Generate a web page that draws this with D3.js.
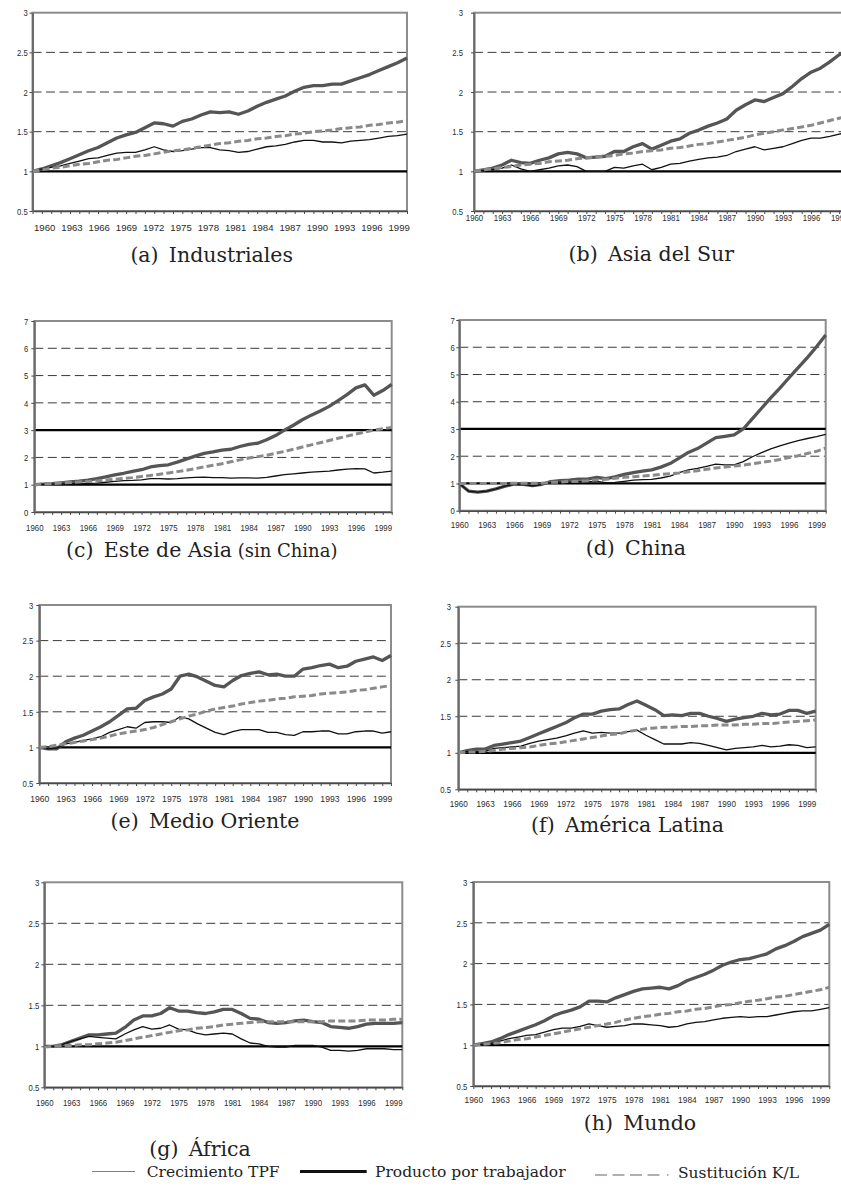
<!DOCTYPE html>
<html>
<head>
<meta charset="utf-8">
<script src="https://cdn.jsdelivr.net/npm/d3@7"></script>
<style>
  html, body { margin: 0; padding: 0; background: #fff; }
  svg { display: block; }
</style>
</head>
<body>
<script>
// ---------- categories / tick labels ----------
const years = d3.range(1960, 2001);            // 1960 ... 2000
const xTickLabels = [1960,1963,1966,1969,1972,1975,1978,1981,1984,1987,1990,1993,1996,1999];
const yTicksLow  = [0.5, 1, 1.5, 2, 2.5, 3];
const yTicksHigh = [0, 1, 2, 3, 4, 5, 6, 7];

// ---------- series ----------
// (a) Industriales
const tpfIndustriales  = [1.00,1.03,1.05,1.07,1.10,1.13,1.16,1.17,1.20,1.23,1.24,1.24,1.27,1.31,1.27,1.25,1.26,1.28,1.30,1.30,1.27,1.26,1.24,1.25,1.28,1.31,1.32,1.34,1.37,1.39,1.39,1.37,1.37,1.36,1.38,1.39,1.40,1.42,1.44,1.45,1.47];
const prodIndustriales = [1.00,1.03,1.07,1.11,1.16,1.21,1.26,1.30,1.36,1.42,1.46,1.49,1.55,1.61,1.60,1.57,1.63,1.66,1.71,1.75,1.74,1.75,1.72,1.76,1.82,1.87,1.91,1.95,2.01,2.06,2.08,2.08,2.10,2.10,2.14,2.18,2.22,2.27,2.32,2.37,2.43];
const klIndustriales   = [1.00,1.02,1.04,1.05,1.07,1.09,1.10,1.12,1.14,1.15,1.17,1.19,1.20,1.22,1.24,1.26,1.27,1.29,1.31,1.33,1.35,1.36,1.38,1.39,1.41,1.42,1.44,1.45,1.47,1.48,1.50,1.51,1.52,1.54,1.55,1.56,1.58,1.59,1.61,1.62,1.64];
// (b) Asia del Sur
const tpfAsiaSur  = [1.00,1.01,1.02,1.04,1.08,1.03,1.00,1.02,1.04,1.07,1.08,1.06,1.00,1.00,1.00,1.05,1.04,1.07,1.09,1.02,1.05,1.09,1.10,1.13,1.15,1.17,1.18,1.20,1.25,1.28,1.31,1.27,1.29,1.31,1.35,1.39,1.42,1.42,1.44,1.47,1.49];
const prodAsiaSur = [1.00,1.02,1.04,1.08,1.14,1.11,1.10,1.14,1.17,1.22,1.24,1.22,1.17,1.18,1.19,1.25,1.25,1.31,1.35,1.28,1.33,1.38,1.41,1.48,1.52,1.57,1.61,1.66,1.77,1.84,1.90,1.88,1.93,1.98,2.07,2.17,2.25,2.30,2.38,2.47,2.52];
const klAsiaSur   = [1.00,1.02,1.03,1.05,1.06,1.08,1.09,1.10,1.12,1.13,1.14,1.16,1.17,1.18,1.19,1.20,1.22,1.23,1.25,1.26,1.27,1.29,1.30,1.32,1.34,1.35,1.37,1.39,1.41,1.43,1.46,1.48,1.50,1.52,1.54,1.56,1.58,1.61,1.64,1.67,1.70];
// (c) Este de Asia (sin China)
const tpfEsteAsia  = [1.00,1.01,1.02,1.03,1.03,1.04,1.05,1.06,1.09,1.12,1.15,1.16,1.18,1.22,1.22,1.21,1.22,1.25,1.27,1.28,1.26,1.26,1.24,1.25,1.25,1.24,1.27,1.32,1.37,1.40,1.43,1.46,1.48,1.50,1.54,1.57,1.59,1.58,1.43,1.46,1.50];
const prodEsteAsia = [1.00,1.02,1.04,1.07,1.10,1.13,1.17,1.22,1.29,1.36,1.42,1.49,1.55,1.65,1.70,1.73,1.83,1.94,2.05,2.15,2.20,2.27,2.30,2.40,2.48,2.52,2.65,2.80,3.00,3.18,3.38,3.55,3.70,3.87,4.08,4.30,4.55,4.66,4.28,4.45,4.68];
const klEsteAsia   = [1.00,1.02,1.04,1.06,1.08,1.10,1.12,1.14,1.17,1.20,1.23,1.26,1.30,1.34,1.38,1.43,1.48,1.53,1.59,1.65,1.71,1.77,1.84,1.91,1.98,2.03,2.08,2.15,2.22,2.30,2.38,2.46,2.54,2.62,2.70,2.78,2.86,2.93,3.00,3.05,3.10];
// (d) China
const tpfChina  = [1.00,0.72,0.68,0.72,0.80,0.90,0.97,0.96,0.91,0.96,1.03,1.05,1.05,1.08,1.06,1.08,1.03,1.04,1.08,1.12,1.14,1.15,1.20,1.27,1.40,1.50,1.55,1.63,1.71,1.68,1.68,1.80,1.98,2.13,2.27,2.38,2.48,2.57,2.65,2.72,2.80];
const prodChina = [1.00,0.72,0.68,0.72,0.80,0.90,0.98,0.97,0.92,0.97,1.07,1.10,1.12,1.16,1.16,1.22,1.18,1.24,1.33,1.40,1.45,1.50,1.60,1.73,1.93,2.14,2.28,2.48,2.68,2.73,2.78,3.00,3.38,3.76,4.14,4.50,4.88,5.25,5.62,6.02,6.45];
const klChina   = [1.00,1.00,1.00,1.00,1.00,1.00,1.01,1.01,1.01,1.01,1.04,1.05,1.07,1.08,1.10,1.13,1.15,1.19,1.23,1.25,1.27,1.30,1.33,1.36,1.38,1.43,1.47,1.52,1.57,1.60,1.64,1.67,1.72,1.77,1.82,1.88,1.95,2.02,2.10,2.18,2.30];
// (e) Medio Oriente
const tpfMedioOriente  = [1.00,0.98,0.99,1.05,1.07,1.10,1.12,1.15,1.21,1.25,1.29,1.27,1.35,1.36,1.36,1.35,1.43,1.40,1.33,1.27,1.21,1.18,1.22,1.25,1.25,1.25,1.21,1.21,1.18,1.17,1.22,1.22,1.23,1.23,1.19,1.19,1.22,1.23,1.23,1.20,1.22];
const prodMedioOriente = [1.00,0.98,0.98,1.08,1.13,1.17,1.23,1.29,1.36,1.45,1.54,1.55,1.66,1.71,1.75,1.82,2.00,2.03,1.99,1.93,1.87,1.85,1.94,2.01,2.04,2.06,2.02,2.03,2.00,2.00,2.10,2.12,2.15,2.17,2.12,2.14,2.21,2.24,2.27,2.22,2.29];
const klMedioOriente   = [1.00,1.01,1.03,1.05,1.07,1.09,1.11,1.13,1.16,1.19,1.21,1.23,1.25,1.28,1.32,1.36,1.40,1.44,1.47,1.51,1.54,1.56,1.58,1.61,1.63,1.65,1.66,1.68,1.69,1.71,1.72,1.73,1.75,1.76,1.77,1.78,1.80,1.81,1.83,1.85,1.87];
// (f) América Latina
const tpfAmericaLatina  = [1.00,1.02,1.02,1.02,1.06,1.07,1.08,1.09,1.13,1.16,1.18,1.20,1.23,1.27,1.30,1.27,1.28,1.27,1.27,1.29,1.31,1.24,1.18,1.12,1.12,1.12,1.14,1.13,1.10,1.07,1.04,1.06,1.07,1.08,1.10,1.08,1.09,1.11,1.10,1.07,1.08];
const prodAmericaLatina = [1.00,1.03,1.05,1.05,1.10,1.12,1.14,1.16,1.21,1.26,1.31,1.36,1.41,1.48,1.53,1.53,1.57,1.59,1.60,1.66,1.71,1.65,1.59,1.51,1.52,1.51,1.54,1.54,1.50,1.47,1.43,1.46,1.48,1.50,1.54,1.52,1.53,1.58,1.58,1.54,1.57];
const klAmericaLatina   = [1.00,1.01,1.01,1.02,1.03,1.05,1.06,1.07,1.08,1.10,1.12,1.13,1.15,1.17,1.19,1.21,1.23,1.25,1.26,1.29,1.31,1.33,1.34,1.35,1.35,1.36,1.36,1.37,1.37,1.38,1.38,1.38,1.39,1.39,1.40,1.40,1.41,1.42,1.43,1.44,1.45];
// (g) África
const tpfAfrica  = [1.00,1.00,1.02,1.06,1.09,1.12,1.11,1.10,1.09,1.15,1.20,1.24,1.21,1.22,1.26,1.21,1.20,1.16,1.14,1.15,1.16,1.15,1.09,1.04,1.03,1.00,0.99,0.99,1.01,1.01,1.01,0.99,0.95,0.95,0.94,0.95,0.97,0.97,0.97,0.96,0.96];
const prodAfrica = [1.00,1.00,1.02,1.06,1.10,1.14,1.14,1.15,1.16,1.23,1.32,1.37,1.37,1.40,1.47,1.43,1.43,1.41,1.40,1.42,1.45,1.45,1.40,1.34,1.33,1.29,1.28,1.29,1.31,1.32,1.30,1.29,1.24,1.23,1.22,1.24,1.27,1.28,1.28,1.28,1.29];
const klAfrica   = [0.99,1.00,1.01,1.01,1.02,1.02,1.03,1.04,1.05,1.07,1.09,1.11,1.13,1.15,1.17,1.19,1.20,1.22,1.23,1.24,1.26,1.27,1.28,1.29,1.30,1.30,1.30,1.30,1.30,1.30,1.30,1.30,1.31,1.31,1.31,1.31,1.32,1.32,1.32,1.33,1.33];
// (h) Mundo
const tpfMundo  = [1.00,1.01,1.02,1.05,1.08,1.10,1.12,1.13,1.16,1.19,1.21,1.21,1.23,1.26,1.24,1.22,1.23,1.24,1.26,1.26,1.25,1.24,1.22,1.23,1.26,1.28,1.29,1.31,1.33,1.34,1.35,1.34,1.35,1.35,1.37,1.39,1.41,1.42,1.42,1.44,1.46];
const prodMundo = [1.00,1.02,1.04,1.08,1.13,1.17,1.21,1.25,1.30,1.36,1.40,1.43,1.47,1.54,1.54,1.53,1.58,1.62,1.66,1.69,1.70,1.71,1.69,1.73,1.79,1.83,1.87,1.92,1.98,2.02,2.05,2.06,2.09,2.12,2.18,2.22,2.27,2.33,2.37,2.41,2.48];
const klMundo   = [1.00,1.01,1.02,1.03,1.05,1.07,1.08,1.10,1.12,1.14,1.16,1.18,1.20,1.22,1.24,1.26,1.28,1.31,1.33,1.35,1.36,1.38,1.39,1.41,1.42,1.44,1.45,1.47,1.49,1.50,1.52,1.54,1.55,1.57,1.59,1.60,1.62,1.64,1.66,1.68,1.71];

const legendLabels = ["Crecimiento TPF", "Producto por trabajador", "Sustitución K/L"];

// ---------- layout (positions only) ----------
const panels = [
  {tag:"(a)", name:"Industriales", tpf:tpfIndustriales, prod:prodIndustriales, kl:klIndustriales,
   L:32.5, R:407, T:12.7, B:211, hi:false, labRange:[44.2,398.7], labY:19.7, sx:1.0, yGap:4.8, capX:211.7, capY:261.5},
  {tag:"(b)", name:"Asia del Sur", tpf:tpfAsiaSur, prod:prodAsiaSur, kl:klAsiaSur,
   L:474, R:848.5, T:12.7, B:211, hi:false, labRange:null, labY:9.8, sx:0.82, yGap:11, capX:651.3, capY:261},
  {tag:"(c)", name:"Este de Asia", sub:"(sin China)", tpf:tpfEsteAsia, prod:prodEsteAsia, kl:klEsteAsia,
   L:34.3, R:391.7, T:321, B:512, hi:true, labRange:null, labY:18.7, sx:0.82, yGap:6, capX:201.7, capY:556.5},
  {tag:"(d)", name:"China", tpf:tpfChina, prod:prodChina, kl:klChina,
   L:459.3, R:825.7, T:320, B:510.7, hi:true, labRange:null, labY:17.6, sx:0.84, yGap:4.5, capX:635.8, capY:555},
  {tag:"(e)", name:"Medio Oriente", tpf:tpfMedioOriente, prod:prodMedioOriente, kl:klMedioOriente,
   L:39.3, R:391, T:605, B:783, hi:false, labRange:null, labY:19.5, sx:0.9, yGap:6, capX:205, capY:828.3},
  {tag:"(f)", name:"América Latina", tpf:tpfAmericaLatina, prod:prodAmericaLatina, kl:klAmericaLatina,
   L:458.3, R:815.7, T:606.7, B:789.3, hi:false, labRange:null, labY:17.4, sx:0.85, yGap:7.3, capX:627.5, capY:831.7},
  {tag:"(g)", name:"África", tpf:tpfAfrica, prod:prodAfrica, kl:klAfrica,
   L:44.3, R:402.3, T:882.3, B:1087.3, hi:false, labRange:null, labY:18.7, sx:0.82, yGap:5, capX:200, capY:1156},
  {tag:"(h)", name:"Mundo", tpf:tpfMundo, prod:prodMundo, kl:klMundo,
   L:473.3, R:829.3, T:882, B:1086, hi:false, labRange:null, labY:17.3, sx:0.87, yGap:6, capX:640, capY:1130}
];

const svg = d3.select("body").append("svg")
  .attr("width", 841).attr("height", 1188)
  .style("font-family", "'Liberation Sans', Arial, sans-serif");

panels.forEach(p => {
  const g = svg.append("g");
  const x = d3.scaleLinear().domain([1960, 2000]).range([p.L, p.R]);
  const yDomain = p.hi ? [0, 7] : [0.5, 3];
  const y = d3.scaleLinear().domain(yDomain).range([p.B, p.T]);
  const yTicks = p.hi ? yTicksHigh : yTicksLow;
  const gridVals = p.hi ? [2, 4, 5, 6] : [1.5, 2, 2.5];
  const solidVals = p.hi ? [1, 3] : [1];
  const labRange = p.labRange || [x(1960), x(1999)];
  const xl = d3.scaleLinear().domain([1960, 1999]).range(labRange);

  // dashed gridlines
  g.selectAll(".grid").data(gridVals).join("line")
    .attr("x1", p.L).attr("x2", p.R)
    .attr("y1", d => y(d)).attr("y2", d => y(d))
    .attr("stroke", "#3a3a3a").attr("stroke-width", 1)
    .attr("stroke-dasharray", "9,4.5");

  // frame
  g.append("rect")
    .attr("x", p.L).attr("y", p.T)
    .attr("width", p.R - p.L).attr("height", p.B - p.T)
    .attr("fill", "none").attr("stroke", "#8c8c8c").attr("stroke-width", 2);

  // solid reference lines
  g.selectAll(".solid").data(solidVals).join("line")
    .attr("x1", p.L).attr("x2", p.R)
    .attr("y1", d => y(d)).attr("y2", d => y(d))
    .attr("stroke", "#000").attr("stroke-width", 2.2);

  // axes
  const xTickAxis = d3.axisBottom(x).tickValues(years).tickSize(3).tickSizeOuter(0).tickFormat("");
  const gx = g.append("g").attr("transform", `translate(0,${p.B})`).call(xTickAxis);
  gx.select(".domain").attr("stroke", "#4a4a4a").attr("stroke-width", 1.6);
  gx.selectAll(".tick line").attr("stroke", "#4a4a4a");

  const xLabAxis = d3.axisBottom(xl).tickValues(xTickLabels).tickSize(0).tickFormat(d => String(d));
  const gxl = g.append("g").attr("transform", `translate(0,${p.B})`).call(xLabAxis);
  gxl.select(".domain").remove();
  gxl.selectAll("text")
    .attr("y", p.labY).attr("dy", 0)
    .attr("font-size", 9.6).attr("fill", "#2b2b2b")
    .attr("font-family", "'Liberation Sans', Arial, sans-serif")
    .attr("transform", `scale(${p.sx},1)`);

  const yAxis = d3.axisLeft(y).tickValues(yTicks).tickSize(3).tickSizeOuter(0).tickFormat(d => String(d));
  const gy = g.append("g").attr("transform", `translate(${p.L},0)`).call(yAxis);
  gy.select(".domain").attr("stroke", "#6a6a6a").attr("stroke-width", 2);
  gy.selectAll(".tick line").attr("stroke", "#4a4a4a");
  gy.selectAll("text")
    .attr("x", -p.yGap / 0.82).attr("dy", "0.34em")
    .attr("font-size", 9.4).attr("fill", "#2b2b2b")
    .attr("font-family", "'Liberation Sans', Arial, sans-serif")
    .attr("transform", "scale(0.82,1)");

  // series
  const line = d3.line().x((d, i) => x(years[i])).y(d => y(d));
  g.append("path").datum(p.prod).attr("d", line)
    .attr("fill", "none").attr("stroke", "#555").attr("stroke-width", 3.3)
    .attr("stroke-linejoin", "round");
  g.append("path").datum(p.tpf).attr("d", line)
    .attr("fill", "none").attr("stroke", "#111").attr("stroke-width", 1.3)
    .attr("stroke-linejoin", "round");
  g.append("path").datum(p.kl).attr("d", line)
    .attr("fill", "none").attr("stroke", "#8a8a8a").attr("stroke-width", 3)
    .attr("stroke-dasharray", "7,3.2");

  // caption
  const cap = g.append("text")
    .attr("x", p.capX).attr("y", p.capY)
    .attr("text-anchor", "middle")
    .attr("font-family", "'DejaVu Serif', serif")
    .attr("font-size", 20.5).attr("fill", "#222");
  cap.append("tspan").text(p.tag + "\u2002" + p.name);
  if (p.sub) cap.append("tspan").attr("font-size", 18).text(" " + p.sub);
});

// ---------- legend ----------
const lg = svg.append("g").attr("font-family", "'DejaVu Serif', serif").attr("fill", "#222");
lg.append("line").attr("x1", 92).attr("x2", 135).attr("y1", 1171.5).attr("y2", 1171.5)
  .attr("stroke", "#8a7a75").attr("stroke-width", 1.2);
lg.append("text").attr("x", 146.7).attr("y", 1176.5).attr("font-size", 15.5).text(legendLabels[0]);
lg.append("line").attr("x1", 300).attr("x2", 366.7).attr("y1", 1171.5).attr("y2", 1171.5)
  .attr("stroke", "#111").attr("stroke-width", 3);
lg.append("text").attr("x", 375).attr("y", 1176.5).attr("font-size", 15.5).text(legendLabels[1]);
lg.append("line").attr("x1", 595).attr("x2", 660).attr("y1", 1175).attr("y2", 1175)
  .attr("stroke", "#a09494").attr("stroke-width", 1.3).attr("stroke-dasharray", "12,5.5");
lg.append("line").attr("x1", 667).attr("x2", 668.5).attr("y1", 1175).attr("y2", 1175)
  .attr("stroke", "#a09494").attr("stroke-width", 1.3);
lg.append("text").attr("x", 678).attr("y", 1177.5).attr("font-size", 15.5).text(legendLabels[2]);
</script>
</body>
</html>
